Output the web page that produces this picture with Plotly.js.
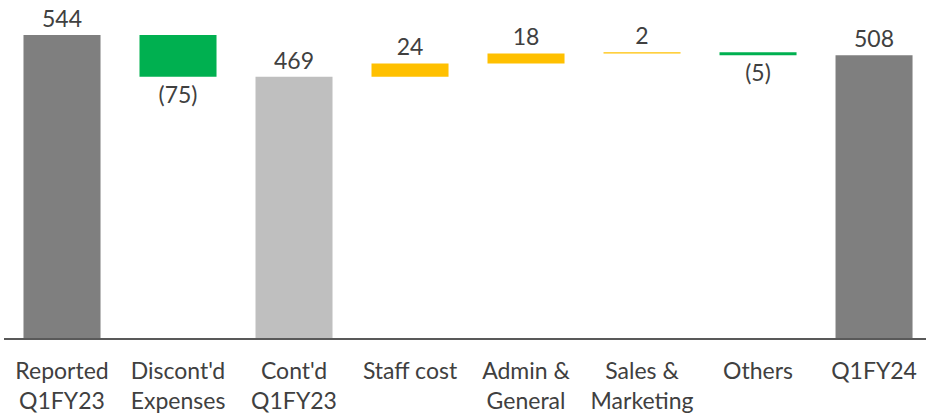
<!DOCTYPE html>
<html><head><meta charset="utf-8">
<script src="https://cdn.plot.ly/plotly-3.0.1.min.js"></script>
<style>html,body{margin:0;padding:0;background:#fff}#c{width:926px;height:414px}</style>
</head><body><div id="c"></div>
<script>
const categories = ["Reported<br>Q1FY23","Discont'd<br>Expenses","Cont'd<br>Q1FY23","Staff cost","Admin &<br>General","Sales &<br>Marketing","Others","Q1FY24"];
const values = [544, -75, 469, 24, 18, 2, -5, 508];
const isTotal = [true, false, true, false, false, false, false, true];
const colors = ["#7f7f7f","#00b050","#bfbfbf","#ffc000","#ffc000","#ffc000","#00b050","#7f7f7f"];

let run = 0;
const base = [], y = [], text = [];
values.forEach((v,i)=>{
  if (isTotal[i]) { base.push(0); y.push(v); run = v; }
  else { base.push(run); y.push(v); run += v; }
  text.push(v < 0 ? "(" + Math.abs(v) + ")" : String(v));
});
const x = categories.map((c,i)=>i);

Plotly.newPlot('c', [{
  type:'bar', x:x, y:y, base:base, width:0.664,
  marker:{color:colors, line:{width:0}},
  text:text, textposition:'outside', constraintext:'none', cliponaxis:false,
  textfont:{family:'Lato, sans-serif', size:23, color:'#404040'},
  hoverinfo:'none'
}], {
  width:926, height:414,
  margin:{l:4, r:0, t:0, b:76},
  paper_bgcolor:'#fff', plot_bgcolor:'#fff',
  showlegend:false,
  xaxis:{range:[-0.5,7.448], tickmode:'array', tickvals:x, ticktext:categories,
    showline:true, linecolor:'#595959', linewidth:2, showgrid:false, zeroline:false,
    ticks:'outside', ticklen:11, tickcolor:'rgba(0,0,0,0)',
    tickfont:{family:'Lato, sans-serif', size:23, color:'#404040'}},
  yaxis:{range:[0,607], visible:false, showgrid:false, zeroline:false}
}, {staticPlot:true});
</script></body></html>
